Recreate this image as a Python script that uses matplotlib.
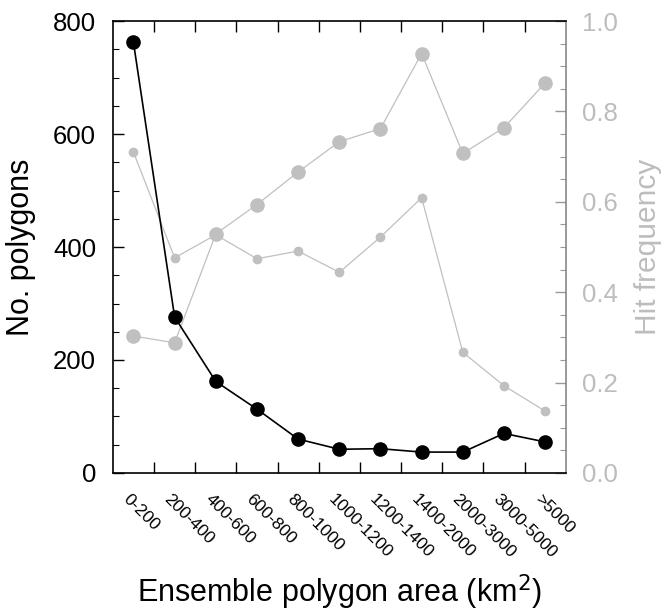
import matplotlib
matplotlib.use("Agg")
import matplotlib.pyplot as plt
from matplotlib.ticker import MultipleLocator, FixedLocator, NullFormatter
from matplotlib.transforms import ScaledTranslation

plt.rcParams['font.family'] = ['Liberation Sans', 'DejaVu Sans']

categories = ["0-200", "200-400", "400-600", "600-800", "800-1000", "1000-1200",
              "1200-1400", "1400-2000", "2000-3000", "3000-5000", ">5000"]
n_polygons = [762, 276, 162, 113, 60, 42, 43, 37, 37, 70, 55]
hit_freq_large = [0.303, 0.288, 0.529, 0.594, 0.666, 0.733, 0.762, 0.928, 0.707, 0.764, 0.863]
hit_freq_small = [0.710, 0.476, 0.527, 0.474, 0.491, 0.444, 0.522, 0.609, 0.267, 0.193, 0.137]

GRAY = "#c0c0c0"
LABEL_GRAY = "#bdbdbd"

fig = plt.figure(figsize=(6.64, 6.13), dpi=100)
ax = fig.add_axes([0.170, 0.2284, 0.682, 0.7373])
ax2 = ax.twinx()

x = [i + 0.5 for i in range(len(categories))]

ax2.plot(x, hit_freq_small, color=GRAY, lw=0.9, marker='o', ms=6, mec=GRAY, mfc=GRAY)
ax2.plot(x, hit_freq_large, color=GRAY, lw=0.9, marker='o', ms=9.5, mec=GRAY, mfc=GRAY)
ax.plot(x, n_polygons, color='black', lw=1.2, marker='o', ms=9.5, mec='black', mfc='black')

ax.set_zorder(ax2.get_zorder() + 1)
ax.patch.set_visible(False)

ax.set_xlim(0, len(categories))
ax.set_ylim(0, 800)
ax2.set_ylim(0, 1.0)

# left axis ticks
ax.yaxis.set_major_locator(MultipleLocator(200))
ax.yaxis.set_minor_locator(MultipleLocator(50))
ax.tick_params(axis='y', which='major', direction='in', length=8, width=1, labelsize=18.5, pad=12)
ax.tick_params(axis='y', which='minor', direction='in', length=4, width=0.8)

# x ticks: boundaries (major, no label), centers (minor, labels)
ax.xaxis.set_major_locator(FixedLocator(list(range(1, len(categories)))))
ax.xaxis.set_major_formatter(NullFormatter())
ax.xaxis.set_minor_locator(FixedLocator(x))
ax.set_xticklabels(categories, minor=True)
ax.tick_params(axis='x', which='major', direction='in', length=8, width=1, top=True, bottom=True)
ax.tick_params(axis='x', which='minor', length=0, labelsize=12.5, pad=13)
offset = ScaledTranslation(-3 / 100, 0, fig.dpi_scale_trans)
for lab in ax.get_xticklabels(minor=True):
    lab.set_rotation(-45)
    lab.set_ha('left')
    lab.set_va('top')
    lab.set_rotation_mode('anchor')
    lab.set_transform(lab.get_transform() + offset)

# right axis
ax2.yaxis.set_major_locator(MultipleLocator(0.2))
ax2.yaxis.set_minor_locator(MultipleLocator(0.05))
ax2.yaxis.set_major_formatter(plt.FormatStrFormatter('%.1f'))
ax2.tick_params(axis='y', which='major', direction='in', length=8, width=1, color='#999999',
                labelcolor=LABEL_GRAY, labelsize=18.5, pad=12)
ax2.tick_params(axis='y', which='minor', direction='in', length=4, width=0.8, color='#999999')

for s in ['left', 'top', 'bottom']:
    ax2.spines[s].set_visible(False)
ax.spines['right'].set_visible(False)
ax2.spines['right'].set_color('#888888')
for s in ['left', 'top', 'bottom']:
    ax.spines[s].set_linewidth(1.2)
ax2.spines['right'].set_linewidth(1.2)

ax.set_ylabel("No. polygons", fontsize=22, labelpad=12)
ax2.set_ylabel("Hit frequency", fontsize=21.5, color=LABEL_GRAY, labelpad=11.5)
ax.set_xlabel("Ensemble polygon area (km$^2$)", fontsize=22, labelpad=9)

fig.savefig("out.png", dpi=100)
